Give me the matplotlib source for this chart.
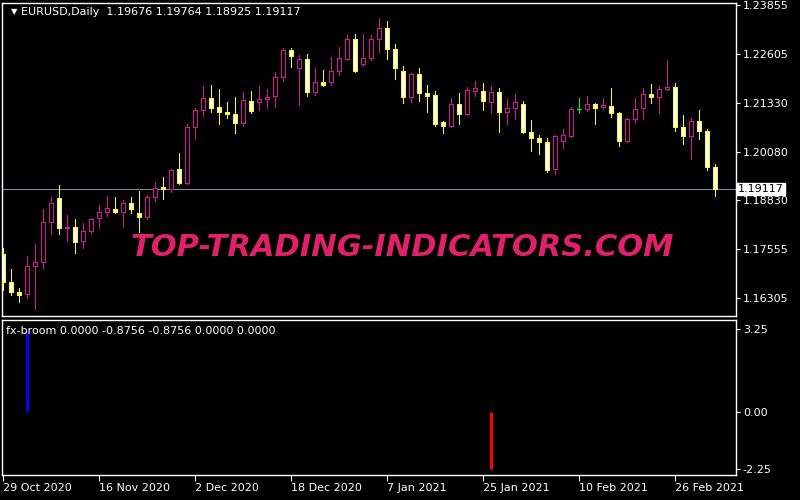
import numpy as np
import pandas as pd
import matplotlib
matplotlib.use("Agg")
import matplotlib.pyplot as plt

# EURUSD daily candles, 29 Oct 2020 .. 5 Mar 2021
opens = [1.17438, 1.16717, 1.16459, 1.16408, 1.17129, 1.17232, 1.18263, 1.18882, 1.18108, 1.18134,
         1.17773, 1.18031, 1.18366, 1.18521, 1.18598, 1.18521, 1.18753, 1.18495, 1.18392, 1.18907,
         1.19165, 1.19114, 1.19629, 1.19268, 1.20711, 1.21149, 1.21459, 1.21227, 1.21098, 1.21046,
         1.20814, 1.21381, 1.21356, 1.21433, 1.21510, 1.22000, 1.22696, 1.22232, 1.22464, 1.21613,
         1.21871, 1.21871, 1.22154, 1.22464, 1.22979, 1.22335, 1.22489, 1.22979, 1.23262, 1.22721,
         1.22154, 1.21484, 1.22077, 1.21587, 1.21536, 1.20840, 1.20737, 1.21304, 1.21046, 1.21639,
         1.21639, 1.21356, 1.21613, 1.21098, 1.21201, 1.21304, 1.20582, 1.20428, 1.20325, 1.19629,
         1.20350, 1.20479, 1.21175, 1.21175, 1.21304, 1.21227, 1.21252, 1.21072, 1.20350, 1.20917,
         1.21201, 1.21562, 1.21484, 1.21691, 1.21742, 1.20711, 1.20479, 1.20866, 1.20608, 1.19676]
highs = [1.17593, 1.17052, 1.16562, 1.17387, 1.17696, 1.18598, 1.18907, 1.19217, 1.18443, 1.18340,
         1.18237, 1.18366, 1.18701, 1.18933, 1.18907, 1.18830, 1.18907, 1.19062, 1.18959, 1.19294,
         1.19423, 1.19629, 1.20041, 1.20789, 1.21201, 1.21768, 1.21794, 1.21691, 1.21356, 1.21484,
         1.21613, 1.21639, 1.21768, 1.21691, 1.22129, 1.22747, 1.22747, 1.22567, 1.22592, 1.22232,
         1.22180, 1.22515, 1.22773, 1.23108, 1.23108, 1.23108, 1.23082, 1.23520, 1.23443, 1.22850,
         1.22283, 1.22103, 1.22232, 1.21794, 1.21639, 1.20866, 1.21459, 1.21587, 1.21742, 1.21897,
         1.21845, 1.21768, 1.21716, 1.21433, 1.21562, 1.21381, 1.20892, 1.20505, 1.20428, 1.20505,
         1.20660, 1.21227, 1.21459, 1.21510, 1.21330, 1.21459, 1.21716, 1.21098, 1.20943, 1.21459,
         1.21716, 1.21819, 1.21768, 1.22438, 1.21845, 1.21020, 1.20943, 1.21149, 1.20660, 1.19764]
lows = [1.16511, 1.16382, 1.16202, 1.16305, 1.16021, 1.17078, 1.17954, 1.17954, 1.17773, 1.17464,
        1.17593, 1.17980, 1.18108, 1.18418, 1.18495, 1.18134, 1.18495, 1.18005, 1.18340, 1.18804,
        1.18856, 1.19036, 1.19242, 1.19242, 1.20402, 1.20995, 1.21098, 1.20789, 1.20943, 1.20557,
        1.20737, 1.21072, 1.21149, 1.21201, 1.21227, 1.21897, 1.22257, 1.21278, 1.21510, 1.21536,
        1.21768, 1.21794, 1.22051, 1.22438, 1.22129, 1.22283, 1.22438, 1.22644, 1.22464, 1.21948,
        1.21330, 1.21356, 1.21381, 1.21098, 1.20737, 1.20557, 1.20711, 1.20789, 1.21020, 1.21510,
        1.21149, 1.21072, 1.20582, 1.20789, 1.20917, 1.20557, 1.20093, 1.20015, 1.19552, 1.19500,
        1.20170, 1.20454, 1.21072, 1.21124, 1.20789, 1.21175, 1.20969, 1.20222, 1.20325, 1.20814,
        1.20917, 1.21330, 1.21072, 1.21665, 1.20608, 1.20273, 1.19887, 1.20402, 1.19603, 1.18925]
closes = [1.16717, 1.16459, 1.16382, 1.17129, 1.17232, 1.18263, 1.18753, 1.18108, 1.18134, 1.17748,
          1.18031, 1.18340, 1.18521, 1.18624, 1.18521, 1.18753, 1.18598, 1.18392, 1.18907, 1.19139,
          1.19114, 1.19603, 1.19268, 1.20711, 1.21149, 1.21459, 1.21201, 1.21098, 1.21046, 1.20814,
          1.21407, 1.21124, 1.21433, 1.21484, 1.22000, 1.22696, 1.22541, 1.22464, 1.21613, 1.21871,
          1.21794, 1.22154, 1.22489, 1.22979, 1.22154, 1.22489, 1.22979, 1.23262, 1.22721, 1.22232,
          1.21484, 1.22077, 1.21587, 1.21510, 1.20789, 1.20737, 1.21304, 1.21046, 1.21665, 1.21716,
          1.21381, 1.21613, 1.21098, 1.21201, 1.21356, 1.20582, 1.20428, 1.20325, 1.19603, 1.20479,
          1.20505, 1.21175, 1.21175, 1.21304, 1.21201, 1.21278, 1.21072, 1.20350, 1.20917, 1.21175,
          1.21562, 1.21484, 1.21691, 1.21742, 1.20711, 1.20479, 1.20866, 1.20608, 1.19680, 1.19117]

# fx-broom histogram: bar index -> value
broom_up = {3: 3.15}
broom_down = {61: -2.25}

date_ticks = [0, 12, 24, 36, 48, 60, 72, 84]
date_labels = ["29 Oct 2020", "16 Nov 2020", "2 Dec 2020", "18 Dec 2020",
               "7 Jan 2021", "25 Jan 2021", "10 Feb 2021", "26 Feb 2021"]
price_ticks = [1.23855, 1.22605, 1.21330, 1.20080, 1.18830, 1.17555, 1.16305]
sub_ticks = [3.25, 0.00, -2.25]

BULL = "#d21894"
BEAR = "#ffff00"
DOJI = "#00ff00"
FG = "white"

W, H = 800, 500
fig = plt.figure(figsize=(8, 5), dpi=100, facecolor="black")
ax = fig.add_axes([2 / W, 1 - 316 / H, 734 / W, 313 / H], facecolor="black")
sub = fig.add_axes([2 / W, 1 - 475 / H, 734 / W, 155 / H], facecolor="black")

n = len(opens)
x = np.arange(n)
o, h, l, c = map(np.array, (opens, highs, lows, closes))
bull = c > o
bear = c < o
doji = c == o

px = 0.72  # one pixel in points
# wicks
ax.vlines(x[bull], l[bull], h[bull], color=BULL, lw=px, zorder=2, antialiased=False)
ax.vlines(x[bear], l[bear], h[bear], color=BEAR, lw=px, zorder=2, antialiased=False)
ax.vlines(x[doji], l[doji], h[doji], color=DOJI, lw=px, zorder=2, antialiased=False)
# bodies
ax.bar(x[bull], c[bull] - o[bull], bottom=o[bull], width=0.55,
       facecolor="black", edgecolor=BULL, lw=px, zorder=3, antialiased=False)
ax.bar(x[bear], o[bear] - c[bear], bottom=c[bear], width=0.55,
       facecolor="white", edgecolor=BEAR, lw=px, zorder=3, antialiased=False)
ax.hlines(o[doji], x[doji] - 0.3, x[doji] + 0.3, color=DOJI, lw=px, zorder=3, antialiased=False)

# current price line
ax.axhline(closes[-1], color="#7f8fa0", lw=px, zorder=1)

ax.set_xlim(-0.125, 91.625)
ax.set_ylim(1.15841, 1.23907)

for a in (ax, sub):
    for s in a.spines.values():
        s.set_color(FG)
        s.set_linewidth(1)
    a.yaxis.tick_right()
    a.tick_params(axis="y", colors=FG, length=3, width=0.8, labelsize=8, pad=2)
    a.tick_params(axis="x", colors=FG, length=4, width=0.8, labelsize=8, pad=2)

ax.set_yticks(price_ticks)
ax.set_yticklabels([f"{v:.5f}" for v in price_ticks])
ax.set_xticks([])

ax.text(1.003, closes[-1], f"{closes[-1]:.5f}", transform=ax.get_yaxis_transform(),
        color="black", fontsize=8, va="center", ha="left",
        bbox=dict(boxstyle="square,pad=0.12", fc="white", ec="white"))

# header texts
ax.text(0.012, 0.972, "\u25bc", transform=ax.transAxes, color=FG, fontsize=6, va="center")
ax.text(0.026, 0.972, "EURUSD,Daily  1.19676 1.19764 1.18925 1.19117",
        transform=ax.transAxes, color=FG, fontsize=8, va="center")

# watermark
ax.text(0.545, 0.22, "TOP-TRADING-INDICATORS.COM", transform=ax.transAxes,
        color="#e0206a", fontsize=22, fontweight="bold", fontstyle="italic",
        ha="center", va="center", family="DejaVu Sans", zorder=5)

# indicator pane
for i, v in broom_up.items():
    sub.vlines(i, 0, v, color="#0000ff", lw=3 * px)
for i, v in broom_down.items():
    sub.vlines(i, 0, v, color="#ff0000", lw=3 * px)
sub.set_xlim(-0.125, 91.625)
sub.set_ylim(-2.48, 3.60)
sub.set_yticks(sub_ticks)
sub.set_yticklabels([f"{v:.2f}" for v in sub_ticks])
sub.set_xticks(date_ticks)
sub.set_xticklabels(date_labels, ha="left")
sub.text(0.006, 0.93, "fx-broom 0.0000 -0.8756 -0.8756 0.0000 0.0000",
         transform=sub.transAxes, color=FG, fontsize=8, va="center")

fig.savefig("out.png", dpi=100, facecolor="black")
